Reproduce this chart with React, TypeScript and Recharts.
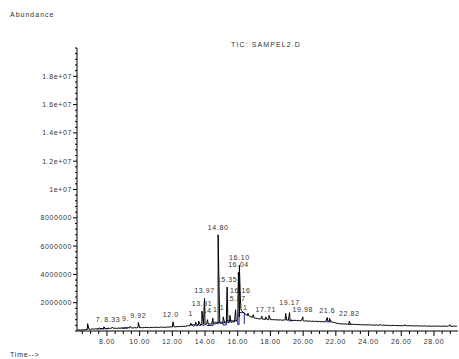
import React from "react";
import { ComposedChart, Line, Scatter, XAxis, YAxis } from "recharts";

const X_MIN = 6.17;
const X_MAX = 29.47;
const Y_MAX = 20000000;

// TIC baseline, one reading every 0.1 min starting at 6.2 min (abundance in thousands)
const baselineStart = 6.2;
const baselineK = [
  70, 80, 60, 90, 80, 100, 110, 130,
  110, 150, 130, 160, 140, 170, 150, 180, 160, 190,
  170, 200, 180, 210, 190, 200, 180, 210, 190, 220,
  200, 230, 210, 240, 220, 230, 210, 240, 220, 250,
  230, 250, 220, 260, 240, 250, 230, 260, 240, 270,
  250, 270, 240, 280, 260, 270, 250, 290, 270, 300,
  280, 300, 290, 320, 300, 330, 310, 340, 330, 360,
  380, 420, 400, 440, 420, 450, 430, 460, 440, 470,
  460, 490, 470, 500, 480, 520, 500, 530, 520, 550,
  540, 570, 560, 600, 580, 620, 600, 650, 640, 700,
  800, 1000, 1500, 1350, 1250, 1150, 1100, 1050, 1000, 960,
  930, 900, 880, 860, 850, 840, 830, 820, 810, 800,
  820, 790, 810, 780, 800, 770, 790, 760, 780, 770,
  760, 780, 750, 770, 740, 760, 730, 750, 720, 740,
  720, 700, 720, 690, 710, 680, 700, 670, 690, 660,
  680, 650, 670, 640, 700, 720, 690, 660, 620, 600,
  570, 540, 520, 500, 510, 490, 500, 480, 490, 470,
  480, 460, 470, 450, 460, 440, 450, 430, 440, 430,
  440, 420, 430, 410, 420, 430, 410, 420, 400, 410,
  400, 410, 390, 400, 380, 400, 390, 380, 390, 370,
  380, 370, 390, 360, 380, 370, 360, 380, 350, 370,
  360, 350, 370, 340, 360, 350, 340, 360, 330, 350,
  340, 350, 330, 350, 340, 330, 350, 340, 330, 350,
  340, 330, 350, 340, 330,
];

// labelled peaks: retention time (min) and apex (thousands)
const peakTimes = [
  7.54, 7.81, 8.33, 9.41, 9.92, 12.04, 13.12, 13.43, 13.61, 13.81, 13.97,
  14.15, 14.48, 14.8, 15.11, 15.35, 15.52, 15.87, 16.04, 16.1, 16.16, 16.62,
  16.95, 17.48, 17.71, 19.17, 19.98, 21.47, 21.61, 22.82,
];
const peakApexK = [
  230, 300, 280, 330, 600, 650, 560, 620, 700, 1400, 2300,
  800, 900, 6800, 1000, 3100, 1100, 1500, 4150, 4650, 2350, 1250,
  1150, 1050, 1000, 1300, 1000, 950, 900, 700,
];

// spikes without a label
const spikeTimes = [6.82, 17.91, 18.93, 24.72, 26.21, 28.98];
const spikeApexK = [520, 1100, 1250, 470, 440, 450];

// blue integration marks (null breaks the line)
const integration: [number, number | null][] = [
  [7.4, 150], [8.1, 160], [8.1, null],
  [8.9, 200], [9.3, 210], [9.3, null],
  [13.1, 330], [13.2, 450], [13.3, 330], [13.4, 460], [13.5, 340], [13.6, 470],
  [13.7, 350], [13.8, 480], [13.9, 360], [14.0, 480], [14.0, null],
  [14.1, 380], [14.5, 400], [14.5, 620], [15.1, 620], [15.1, 420], [15.3, 430],
  [15.3, 720], [16.0, 720], [16.0, 450], [16.08, 450], [16.08, 1300], [16.4, 1300],
  [16.4, 500], [16.4, null],
  [19.1, 720], [19.4, 730], [19.4, null],
  [21.4, 650], [21.7, 640], [21.7, null],
  [22.75, 470], [22.9, 470],
];

const xLabels = [8, 10, 12, 14, 16, 18, 20, 22, 24, 26, 28];
const yLabels = [2e6, 4e6, 6e6, 8e6, 1e7, 1.2e7, 1.4e7, 1.6e7, 1.8e7];

const xTicks = Array.from({ length: 46 }, (_, i) => 6.5 + i * 0.5);
const yTicks = Array.from({ length: 51 }, (_, i) => i * 400000);

const trace = [
  ...baselineK.map((k, i) => ({ t: Math.round((baselineStart + i * 0.1) * 10) / 10, v: k * 1000 })),
  ...peakTimes.map((t, i) => ({ t, v: peakApexK[i] * 1000 })),
  ...spikeTimes.map((t, i) => ({ t, v: spikeApexK[i] * 1000 })),
].sort((a, b) => a.t - b.t);

const blue = integration.map(([t, k]) => ({ t, v: k === null ? null : k * 1000 }));

// peak labels sit above the apex; a label running into the next one is either
// lifted clear of it (when it is already higher) or cut short
const PLOT_W = 381;
const PLOT_H = 283;
const FS = 7;
const LS = 0.6;
const GAP = 5;
const ROW = 7;
const toPx = (t: number) => ((t - X_MIN) / (X_MAX - X_MIN)) * PLOT_W;
const toPy = (v: number) => (v / Y_MAX) * PLOT_H;
const charW = (c: string) => (c === "." ? 0.278 : 0.556) * FS + LS;
const textW = (s: string) => s.split("").reduce((a, c) => a + charW(c), 0);

const placed = peakTimes.map((t, i) => {
  const label = t.toFixed(2);
  const w = textW(label);
  const x0 = toPx(t) - w / 2;
  const y = toPy(peakApexK[i] * 1000) + GAP;
  return { t, label, w, x0, y, base: y };
});

const peaks = placed.map((p, i) => {
  let text = p.label;
  const next = placed.slice(i + 1).find((q) => q.x0 < p.x0 + p.w && Math.abs(q.y - p.y) < ROW);
  if (next) {
    if (p.y - next.y >= 3) {
      p.y = next.y + ROW;
    } else {
      let room = next.x0 - 1 - p.x0;
      let n = 0;
      while (n < text.length && room >= charW(text[n])) {
        room -= charW(text[n]);
        n++;
      }
      text = text.slice(0, n);
    }
  }
  return { t: p.t, v: peakApexK[i] * 1000, text, dx: p.x0 - toPx(p.t), lift: p.y - p.base };
});

const font = "'Liberation Sans', Arial, sans-serif";
const ink = "#333";
const txt = { letterSpacing: `${LS}px` };

const fmtY = (v: number) =>
  v >= 1e7 ? v.toExponential().replace(/e\+(\d)$/, "e+0$1") : String(v);

const XTick = (props: any) => {
  const { x, y, payload } = props;
  const major = xLabels.includes(payload.value);
  return (
    <g>
      <line x1={x} x2={x} y1={y} y2={y + (major ? 5 : 3)} stroke="#000" strokeWidth={1} />
      {major && (
        <text x={x} y={y + 13} textAnchor="middle" fontSize={FS} style={txt} fill={ink} fontFamily={font}>
          {payload.value.toFixed(2)}
        </text>
      )}
    </g>
  );
};

const YTick = (props: any) => {
  const { x, y, payload } = props;
  const major = yLabels.includes(payload.value);
  return (
    <g>
      <line x1={x - (major ? 4 : 2)} x2={x} y1={y} y2={y} stroke="#000" strokeWidth={1} />
      {major && (
        <text x={x - 5} y={y + 2.5} textAnchor="end" fontSize={FS} style={txt} fill={ink} fontFamily={font}>
          {fmtY(payload.value)}
        </text>
      )}
    </g>
  );
};

const PeakLabel = (props: any) => {
  const { cx, cy, payload } = props;
  if (cx == null || cy == null || !payload.text) return null;
  return (
    <text x={cx + payload.dx} y={cy - GAP - payload.lift} fontSize={FS} style={txt} fill={ink} fontFamily={font}>
      {payload.text}
    </text>
  );
};

export default function App() {
  return (
    <div style={{ position: "absolute", left: 0, top: 0, width: 459, height: 359, background: "#fff" }}>
      <ComposedChart width={459} height={359} margin={{ top: 48, right: 1, bottom: 0, left: 0 }}>
        <XAxis
          type="number"
          dataKey="t"
          domain={[X_MIN, X_MAX]}
          allowDataOverflow
          ticks={xTicks}
          interval={0}
          tick={<XTick />}
          tickLine={false}
          tickSize={0}
          tickMargin={0}
          axisLine={{ stroke: "#000" }}
          height={28}
        />
        <YAxis
          type="number"
          domain={[0, Y_MAX]}
          allowDataOverflow
          ticks={yTicks}
          interval={0}
          tick={<YTick />}
          tickLine={false}
          tickSize={0}
          tickMargin={0}
          axisLine={{ stroke: "#000" }}
          width={77}
        />
        <Line data={blue} dataKey="v" stroke="#1e1e9e" strokeWidth={1} dot={false} connectNulls={false} isAnimationActive={false} />
        <Line data={trace} dataKey="v" stroke="#000" strokeWidth={1} dot={false} isAnimationActive={false} />
        <Scatter data={peaks} dataKey="v" shape={<PeakLabel />} isAnimationActive={false} />
      </ComposedChart>
      <svg width={459} height={359} style={{ position: "absolute", left: 0, top: 0, pointerEvents: "none" }}>
        <text x={10} y={17} fontSize={FS} style={{ letterSpacing: "1px" }} fill={ink} fontFamily={font}>Abundance</text>
        <text x={266} y={47} textAnchor="middle" fontSize={FS} style={{ letterSpacing: "1.1px" }} fill={ink} fontFamily={font}>TIC: SAMPEL2.D</text>
        <text x={10} y={357} fontSize={FS} style={{ letterSpacing: "0.8px" }} fill={ink} fontFamily={font}>Time--&gt;</text>
      </svg>
    </div>
  );
}
